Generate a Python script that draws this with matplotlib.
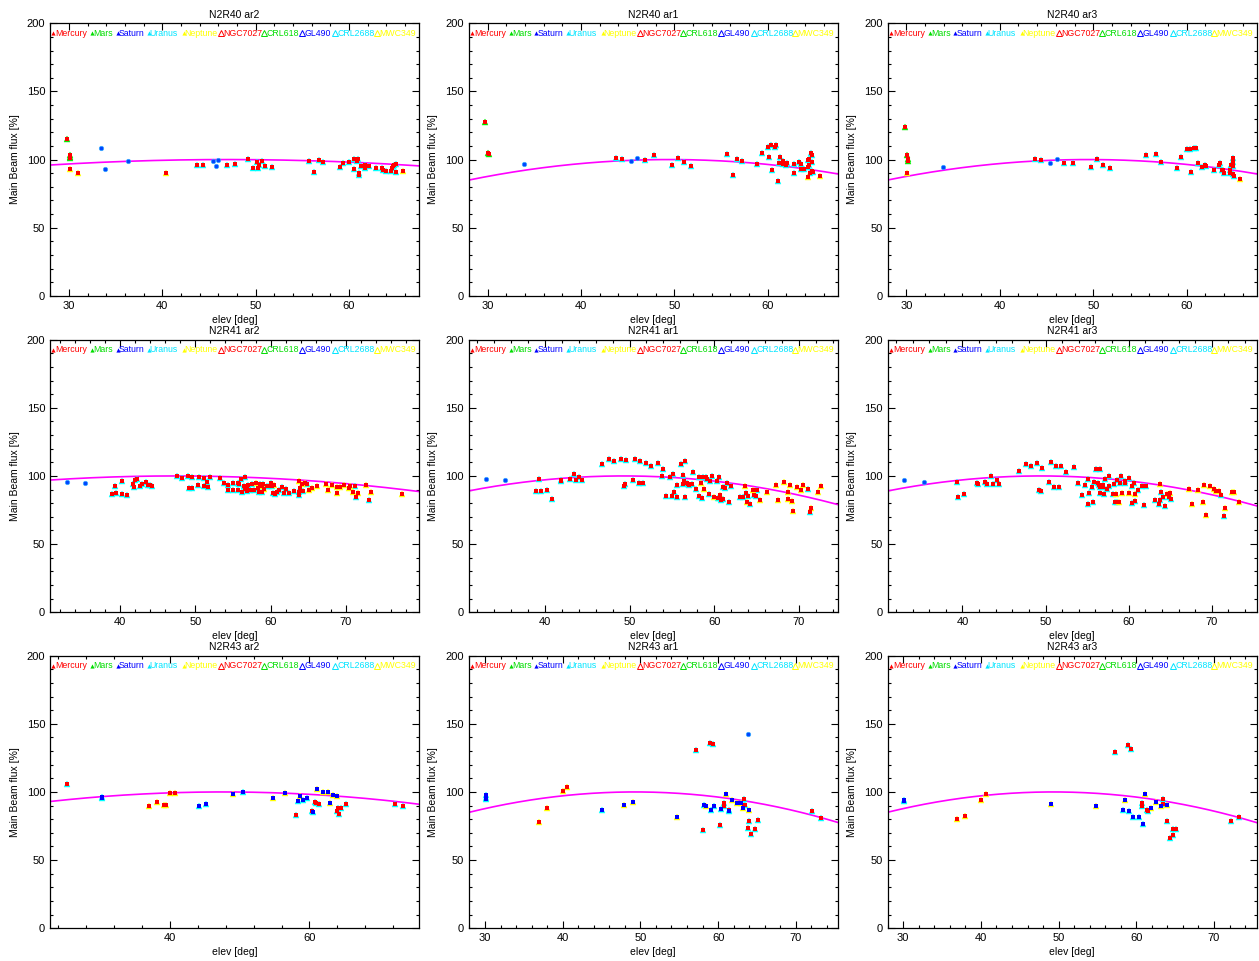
import matplotlib
matplotlib.use("Agg")
import matplotlib.pyplot as plt
import numpy as np
from matplotlib.ticker import MultipleLocator

# ---------------- data ----------------
# marker classes: (outer triangle colour, inner dot colour)
# A: NGC7027-like (cyan/red), B: yellow/red, C: cyan/blue, D: yellow/blue,
# E: green/red (Mars), F: Saturn (blue dot)

pts_N2R40_ar2 = [(29.75,115.3,'E'),(30.05,103,'E'),(30.1,102,'E'),(30.1,101,'E'),(30.1,92.8,'B'),(31.0,90.0,'B'),
    (33.4,108.4,'F'),(33.9,92.8,'F'),(36.3,98.7,'F'),(40.4,89.8,'B'),(43.75,96.2,'A'),(44.4,95.7,'A'),(45.4,98.7,'F'),
    (46.0,99.4,'F'),(45.8,95.2,'F'),(46.9,95.7,'A'),(47.8,96.7,'A'),(49.2,100.1,'A'),(49.75,93.8,'A'),(50.1,98.2,'A'),
    (50.4,96.2,'A'),(50.25,93.5,'A'),(50.7,98.9,'A'),(51.0,95.2,'A'),(51.75,94.5,'A'),(55.7,98.9,'A'),(56.3,90.6,'A'),
    (56.75,99.4,'A'),(57.25,98.2,'A'),(59.0,94.7,'A'),(59.4,97.2,'A'),(60.0,98.2,'A'),(60.5,100.6,'A'),(60.55,92.8,'A'),
    (60.85,98.9,'A'),(61.0,100.4,'A'),(61.1,89.8,'A'),(61.1,88.4,'A'),(61.25,95.5,'A'),(61.7,96.2,'A'),(61.7,94.0,'A'),
    (62.1,95.0,'A'),(62.9,93.5,'A'),(63.55,93.5,'A'),(63.6,92.0,'A'),(64.0,91.3,'A'),(64.6,93.5,'A'),(64.7,95.0,'A'),
    (64.8,96.2,'A'),(65.0,96.7,'A'),(64.55,91.8,'A'),(65.0,90.8,'A'),(65.75,91.5,'B')]

pts_N2R40_ar1 = [(29.75,127.3,'E'),(30.05,104.8,'E'),(30.1,103.8,'E'),(33.9,96.5,'F'),(43.75,101.3,'A'),(44.4,100.4,'A'),
    (45.3,98.9,'F'),(46.0,101.1,'F'),(46.85,99.4,'A'),(47.8,103.1,'A'),(49.75,95.7,'A'),(50.4,101.1,'A'),(51.0,97.9,'A'),
    (51.75,95.0,'A'),(55.6,104.3,'A'),(56.3,88.9,'A'),(56.7,100.1,'A'),(57.2,99.1,'A'),(58.8,96.7,'A'),(59.4,104.8,'A'),
    (60.0,108.9,'A'),(60.15,101.6,'A'),(60.4,110.4,'A'),(60.5,92.0,'A'),(60.75,108.9,'A'),(60.9,110.6,'A'),(61.1,84.0,'A'),
    (61.2,97.7,'A'),(61.35,102.1,'A'),(61.6,98.7,'A'),(61.6,96.7,'A'),(62.0,96.2,'A'),(62.1,97.4,'A'),(62.8,96.7,'A'),
    (62.8,89.8,'A'),(63.3,98.4,'A'),(63.6,96.9,'A'),(63.6,93.0,'A'),(63.9,93.0,'A'),(64.3,99.6,'A'),(64.45,100.6,'A'),
    (64.6,104.5,'A'),(64.75,103.5,'A'),(64.75,98.4,'A'),(64.45,96.0,'A'),(64.3,94.2,'A'),(64.55,90.3,'A'),(64.75,91.8,'A'),
    (64.9,90.6,'A'),(64.3,87.4,'B'),(65.6,87.6,'B')]

pts_N2R40_ar3 = [(29.8,124.1,'E'),(30.05,103.1,'E'),(30.15,100.1,'E'),(30.15,99.1,'E'),(30.05,90.3,'B'),(33.9,94.2,'F'),
    (43.75,100.1,'A'),(44.45,99.4,'A'),(45.35,97.7,'F'),(46.1,100.4,'F'),(46.85,97.7,'A'),(47.8,97.2,'A'),(49.75,94.7,'A'),
    (50.4,100.1,'A'),(51.05,95.7,'A'),(51.8,93.5,'A'),(55.7,103.3,'A'),(56.7,103.8,'A'),(57.25,98.2,'A'),(58.95,94.0,'A'),
    (59.35,101.8,'A'),(60.0,107.5,'A'),(60.4,107.5,'A'),(60.5,90.8,'A'),(60.8,108.2,'A'),(60.95,108.7,'A'),(61.2,97.7,'A'),
    (61.6,94.2,'A'),(62.0,96.2,'A'),(62.1,95.5,'A'),(62.95,92.3,'A'),(63.5,95.7,'A'),(63.6,97.4,'A'),(63.75,92.5,'A'),
    (63.85,92.0,'A'),(64.05,90.1,'A'),(64.6,92.0,'A'),(64.6,90.3,'A'),(64.7,95.7,'A'),(64.8,96.0,'A'),(64.95,100.9,'A'),
    (65.0,97.9,'A'),(65.0,95.5,'A'),(65.0,89.4,'A'),(65.05,88.1,'A'),(65.75,85.4,'B')]

pts_N2R41_ar2 = [(32.9,95.6,'F'),(35.3,94.6,'F'),(38.9,87.0,'A'),(39.5,87.3,'A'),(39.3,92.9,'A'),(40.2,86.8,'A'),
    (40.3,96.6,'A'),(40.9,86.1,'A'),(41.7,94.4,'A'),(41.9,91.9,'A'),(42.0,97.1,'A'),(42.2,98.0,'A'),(42.65,92.9,'A'),
    (42.9,93.9,'A'),(43.4,95.4,'A'),(43.7,93.6,'A'),(44.0,93.6,'A'),(44.3,92.7,'A'),(47.6,99.8,'A'),(48.2,98.5,'A'),
    (49.0,100.0,'A'),(49.2,91.2,'A'),(49.5,91.4,'A'),(49.6,99.3,'A'),(50.4,93.6,'A'),(50.5,99.3,'A'),(51.1,92.9,'A'),
    (51.2,98.3,'A'),(51.6,95.6,'A'),(51.7,92.2,'A'),(51.9,99.3,'A'),(53.3,98.5,'A'),(53.85,94.6,'A'),(54.4,93.2,'A'),
    (54.4,90.0,'A'),(55.0,95.1,'A'),(55.0,89.5,'A'),(55.6,94.6,'A'),(55.7,89.5,'A'),(55.8,94.1,'A'),(56.0,98.0,'A'),
    (56.2,88.3,'A'),(56.4,92.9,'A'),(56.6,99.0,'A'),(56.8,91.7,'A'),(56.6,90.2,'A'),(56.9,89.0,'A'),(57.0,93.4,'A'),
    (57.2,89.7,'A'),(57.5,94.4,'A'),(57.8,89.5,'A'),(58.1,94.6,'B'),(58.3,91.0,'A'),(58.6,94.4,'A'),(58.5,88.3,'A'),
    (58.85,88.3,'A'),(58.85,92.7,'B'),(59.0,94.4,'A'),(59.1,90.2,'B'),(59.5,92.9,'A'),(59.8,92.9,'A'),(60.0,95.1,'A'),
    (60.2,92.7,'A'),(60.35,87.3,'A'),(60.5,93.2,'B'),(60.6,86.8,'A'),(60.8,88.0,'A'),(61.1,90.0,'A'),(61.5,92.2,'A'),
    (61.8,87.3,'A'),(62.0,90.2,'A'),(62.4,87.8,'A'),(63.1,89.2,'A'),(63.7,96.6,'B'),(63.8,85.8,'A'),(63.8,88.5,'A'),
    (63.9,91.0,'A'),(64.1,93.9,'B'),(64.25,89.0,'A'),(64.6,94.6,'B'),(64.8,93.9,'A'),(65.1,89.5,'B'),(65.5,91.0,'B'),
    (66.2,92.4,'B'),(67.3,94.1,'B'),(67.6,89.5,'B'),(68.2,93.2,'B'),(68.8,87.8,'B'),(68.85,92.2,'B'),(69.2,92.2,'B'),
    (69.8,93.6,'B'),(70.35,91.4,'B'),(70.5,92.9,'B'),(70.9,88.3,'B'),(71.15,92.4,'A'),(71.4,84.4,'A'),(71.6,87.8,'B'),
    (72.6,93.6,'B'),(73.1,82.2,'A'),(73.3,88.3,'B'),(77.4,87.0,'B')]

pts_N2R41_ar1 = [(33.04,97.6,'F'),(35.3,97.3,'F'),(39.0,89.2,'A'),(39.3,97.6,'A'),(39.6,88.8,'A'),(40.2,89.5,'A'),
    (40.9,83.4,'A'),(41.85,97.1,'A'),(41.95,96.6,'A'),(42.95,97.6,'A'),(43.4,101.5,'A'),(43.65,97.3,'A'),(44.05,99.3,'A'),
    (44.4,97.1,'A'),(46.8,108.8,'A'),(47.6,112.5,'A'),(48.2,111.0,'A'),(49.0,112.2,'A'),(49.6,111.5,'A'),(49.3,92.7,'A'),
    (49.5,94.1,'A'),(50.45,97.1,'A'),(50.6,112.5,'A'),(51.2,111.2,'A'),(51.1,94.6,'A'),(51.6,94.6,'A'),(51.9,109.3,'A'),
    (52.5,107.3,'A'),(53.4,109.3,'A'),(53.9,105.1,'A'),(53.85,100.2,'A'),(54.35,85.3,'A'),(54.75,99.0,'A'),(55.1,101.2,'A'),
    (55.0,85.6,'A'),(55.2,88.5,'A'),(55.6,93.2,'A'),(55.65,84.6,'A'),(56.1,109.0,'A'),(56.3,101.0,'A'),(56.35,94.1,'A'),
    (56.45,96.6,'A'),(56.6,110.8,'A'),(56.55,84.8,'A'),(56.75,95.1,'A'),(56.9,94.1,'A'),(57.05,93.4,'A'),(57.4,94.4,'A'),
    (57.5,103.2,'A'),(57.9,90.5,'A'),(58.25,99.0,'A'),(58.25,85.3,'A'),(58.4,95.1,'B'),(58.55,84.1,'A'),(58.7,99.5,'A'),
    (58.85,90.5,'B'),(59.0,99.5,'A'),(59.1,98.0,'A'),(59.35,87.0,'A'),(59.5,96.6,'A'),(59.7,100.2,'A'),(60.0,84.4,'B'),
    (60.4,83.6,'A'),(60.3,96.1,'A'),(60.55,99.5,'A'),(60.6,84.1,'A'),(60.7,85.8,'B'),(60.85,82.4,'A'),(61.0,82.9,'A'),
    (61.1,92.2,'A'),(61.3,91.4,'A'),(61.5,94.6,'A'),(61.75,80.9,'A'),(62.0,92.9,'A'),(63.1,84.4,'A'),(63.4,84.4,'A'),
    (63.7,92.4,'B'),(63.75,87.8,'A'),(63.9,80.9,'B'),(64.05,85.3,'A'),(64.2,79.2,'A'),(64.55,89.7,'B'),(64.7,86.1,'A'),
    (65.0,85.6,'A'),(65.1,89.7,'A'),(65.4,82.2,'B'),(66.2,88.3,'B'),(67.3,93.6,'B'),(67.6,82.6,'B'),(68.2,95.4,'B'),
    (68.7,88.3,'B'),(68.7,82.9,'B'),(69.0,93.6,'B'),(69.2,81.7,'B'),(69.3,74.3,'B'),(69.8,91.9,'B'),(70.3,89.5,'B'),
    (70.5,93.6,'B'),(71.05,90.2,'A'),(71.3,73.6,'A'),(71.5,76.3,'B'),(72.3,88.5,'B'),(72.6,92.7,'B')]

pts_N2R41_ar3 = [(33.0,96.8,'F'),(35.35,95.6,'F'),(39.3,95.6,'A'),(39.5,84.4,'A'),(40.2,86.8,'A'),(41.8,95.1,'A'),
    (41.9,93.9,'A'),(42.7,95.8,'A'),(43.0,94.1,'A'),(43.45,99.8,'A'),(43.7,94.4,'A'),(44.1,97.3,'A'),(44.4,94.4,'A'),
    (46.85,103.9,'A'),(47.6,109.0,'A'),(48.25,107.6,'A'),(48.95,109.5,'A'),(49.25,89.7,'A'),(49.5,89.0,'A'),(49.6,105.6,'A'),
    (50.45,95.6,'A'),(50.6,110.5,'A'),(51.2,107.6,'A'),(51.05,91.7,'A'),(51.6,91.7,'A'),(51.9,107.1,'A'),(52.5,102.7,'A'),
    (53.4,106.6,'A'),(53.9,95.1,'A'),(54.35,86.1,'A'),(54.75,93.6,'A'),(55.15,97.6,'A'),(55.05,79.7,'A'),(55.2,87.3,'A'),
    (55.6,92.2,'A'),(55.7,80.9,'A'),(55.8,95.4,'A'),(56.1,105.1,'A'),(56.3,95.1,'A'),(56.4,93.6,'A'),(56.5,92.2,'A'),
    (56.6,105.4,'A'),(56.6,87.3,'A'),(56.85,93.2,'A'),(56.95,91.7,'A'),(57.05,86.8,'A'),(57.2,97.8,'A'),(57.35,90.2,'A'),
    (57.6,92.7,'A'),(57.6,100.2,'A'),(58.05,87.0,'A'),(58.2,94.4,'A'),(58.3,81.2,'A'),(58.45,87.0,'B'),(58.6,97.1,'A'),
    (58.6,80.9,'A'),(58.85,80.9,'B'),(58.9,95.1,'A'),(59.1,99.8,'A'),(59.2,87.5,'B'),(59.5,94.6,'A'),(59.6,96.3,'A'),
    (60.0,87.3,'B'),(60.05,98.8,'A'),(60.4,92.9,'A'),(60.4,80.0,'A'),(60.6,94.9,'A'),(60.7,81.7,'A'),(60.75,87.0,'B'),
    (61.15,89.7,'A'),(61.6,92.7,'A'),(61.8,78.5,'A'),(62.1,92.7,'A'),(63.2,82.2,'A'),(63.6,79.5,'A'),(63.75,93.9,'B'),
    (63.85,88.5,'A'),(63.8,82.6,'A'),(64.1,84.4,'A'),(64.4,78.0,'A'),(64.6,86.8,'B'),(64.8,84.8,'A'),(65.0,87.3,'B'),
    (65.1,83.1,'A'),(67.3,90.2,'B'),(67.6,79.5,'B'),(68.3,89.5,'B'),(68.9,80.9,'B'),(69.1,93.6,'B'),(69.3,71.6,'B'),
    (69.8,92.9,'B'),(70.3,90.7,'B'),(70.55,89.0,'B'),(70.9,89.0,'B'),(71.15,85.8,'A'),(71.45,70.7,'A'),(71.6,76.5,'B'),
    (72.4,88.5,'B'),(72.7,88.3,'B'),(73.3,80.9,'B')]

pts_N2R43_ar2 = [(25.2,106.1,'A'),(30.2,96.6,'C'),(30.2,95.6,'C'),(37.0,90.0,'B'),(38.1,92.7,'B'),(39.2,90.5,'B'),
    (39.4,90.5,'B'),(40.05,99.5,'B'),(40.7,99.5,'B'),(44.2,90.0,'C'),(45.1,91.4,'C'),(49.1,98.8,'D'),(50.5,99.8,'C'),
    (54.8,95.8,'D'),(56.5,99.3,'D'),(58.1,82.9,'A'),(58.4,93.2,'C'),(58.6,97.1,'D'),(59.1,94.4,'C'),(59.6,95.6,'C'),
    (60.3,86.1,'A'),(60.5,85.3,'C'),(60.8,92.7,'A'),(60.9,91.9,'A'),(61.1,102.2,'D'),(61.4,91.0,'A'),(61.9,100.2,'D'),
    (62.6,100.0,'D'),(62.9,91.9,'D'),(63.35,98.0,'D'),(63.9,85.8,'A'),(64.0,97.3,'D'),(64.1,88.0,'A'),(64.2,83.9,'A'),
    (64.5,88.0,'A'),(65.2,91.2,'A'),(72.25,91.2,'A'),(73.4,89.7,'A')]

pts_N2R43_ar1 = [(30.1,97.6,'C'),(30.1,95.6,'C'),(30.1,94.6,'C'),(37.0,77.7,'B'),(38.0,88.0,'B'),(40.0,100.7,'B'),
    (40.6,103.4,'B'),(45.0,86.6,'C'),(47.9,90.7,'D'),(49.1,92.9,'D'),(54.7,81.7,'D'),(57.2,131.0,'A'),(59.0,135.9,'A'),
    (59.3,135.5,'A'),(58.0,72.4,'A'),(58.25,90.2,'C'),(58.4,90.0,'D'),(59.05,87.0,'C'),(59.5,89.7,'C'),(60.2,75.5,'A'),
    (60.35,87.3,'C'),(60.7,92.2,'A'),(60.75,89.7,'A'),(61.0,98.5,'D'),(61.4,87.0,'A'),(61.4,85.8,'C'),(61.85,94.1,'D'),
    (62.5,91.7,'D'),(62.9,91.7,'D'),(63.2,88.0,'D'),(63.3,90.7,'A'),(63.4,95.1,'A'),(63.5,90.5,'A'),(63.8,142.3,'F'),
    (64.0,79.0,'A'),(63.9,73.3,'A'),(64.0,86.6,'D'),(64.3,68.9,'A'),(64.7,73.1,'A'),(65.1,79.7,'A'),(72.1,85.8,'A'),
    (73.2,81.2,'A')]

pts_N2R43_ar3 = [(30.1,94.4,'C'),(30.1,93.0,'C'),(36.9,80.4,'B'),(38.0,82.4,'B'),(40.0,93.9,'B'),(40.6,98.5,'B'),
    (49.0,90.9,'D'),(54.8,89.7,'D'),(57.3,129.6,'A'),(58.9,134.2,'A'),(59.3,131.8,'A'),(58.3,86.8,'C'),(58.5,93.9,'D'),
    (59.1,86.1,'C'),(59.6,81.7,'C'),(60.4,81.7,'C'),(60.7,91.9,'A'),(60.7,90.0,'A'),(60.9,76.8,'C'),(61.1,98.8,'D'),
    (61.4,86.8,'A'),(61.5,86.1,'A'),(61.9,88.5,'D'),(62.6,92.7,'D'),(63.2,90.0,'D'),(63.4,95.1,'A'),(63.4,91.2,'A'),
    (64.0,90.2,'D'),(63.9,78.7,'A'),(64.3,66.5,'A'),(64.7,72.9,'A'),(64.75,68.5,'A'),(65.1,73.1,'A'),(72.2,78.7,'A'),
    (73.2,81.4,'A')]

# gain-curve fit per panel: (peak elevation, curvature) -> 100 - c*(el-peak)^2
fit_params = {
    'N2R40 ar2': (47.0, 0.0111), 'N2R40 ar1': (49.5, 0.0325), 'N2R40 ar3': (49.5, 0.0325),
    'N2R41 ar2': (47.3, 0.0109), 'N2R41 ar1': (49.3, 0.0328), 'N2R41 ar3': (49.4, 0.0325),
    'N2R43 ar2': (47.6, 0.0114), 'N2R43 ar1': (49.3, 0.0328), 'N2R43 ar3': (49.3, 0.0328),
}

xlims = {
    'N2R40 ar2': (27.96, 67.5), 'N2R40 ar1': (27.96, 67.5), 'N2R40 ar3': (28.0, 67.5),
    'N2R41 ar2': (30.7, 79.7), 'N2R41 ar1': (31.0, 74.6), 'N2R41 ar3': (31.0, 75.4),
    'N2R43 ar2': (22.8, 75.7), 'N2R43 ar1': (27.9, 75.4), 'N2R43 ar3': (28.0, 75.5),
}

legend_names = ['Mercury', 'Mars', 'Saturn', 'Uranus', 'Neptune', 'NGC7027', 'CRL618', 'GL490', 'CRL2688', 'MWC349']
legend_colors = ['#ff0000', '#00dd00', '#0000ff', '#00e5ff', '#ffff00', '#ff0000', '#00dd00', '#0000ff', '#00e5ff', '#ffff00']
legend_filled = [True, True, True, True, True, False, False, False, False, False]

panels = [
    ['N2R40 ar2', 'N2R40 ar1', 'N2R40 ar3'],
    ['N2R41 ar2', 'N2R41 ar1', 'N2R41 ar3'],
    ['N2R43 ar2', 'N2R43 ar1', 'N2R43 ar3'],
]
panel_points = {
    'N2R40 ar2': pts_N2R40_ar2, 'N2R40 ar1': pts_N2R40_ar1, 'N2R40 ar3': pts_N2R40_ar3,
    'N2R41 ar2': pts_N2R41_ar2, 'N2R41 ar1': pts_N2R41_ar1, 'N2R41 ar3': pts_N2R41_ar3,
    'N2R43 ar2': pts_N2R43_ar2, 'N2R43 ar1': pts_N2R43_ar1, 'N2R43 ar3': pts_N2R43_ar3,
}

# ---------------- styles ----------------
cls_style = {
    'A': ('#00ffff', '#ff0000'),
    'B': ('#ffff00', '#ff0000'),
    'C': ('#00ffff', '#0000ff'),
    'D': ('#ffff00', '#0000ff'),
    'E': ('#00ee00', '#ff0000'),
    'F': (None, '#0044ff'),
}

W, H = 1259, 961
plt.rcParams['font.family'] = ['Liberation Sans', 'DejaVu Sans']
fig = plt.figure(figsize=(W / 100, H / 100), dpi=100)

col_left = [50, 468.7, 887.7]
row_top = [23.3, 339.7, 655.7]
ax_w, ax_h = 369, 272.5

# legend: symbol x-position and name x-position (axes fraction)
sym_pos = [0.003, 0.108, 0.177, 0.262, 0.357, 0.458, 0.575, 0.678, 0.767, 0.879]
name_pos = [0.014, 0.118, 0.187, 0.270, 0.365, 0.470, 0.587, 0.690, 0.779, 0.891]

for r in range(3):
    for c in range(3):
        name = panels[r][c]
        left = col_left[c] / W
        bottom = 1 - (row_top[r] + ax_h) / H
        ax = fig.add_axes([left, bottom, ax_w / W, ax_h / H])
        x0, x1 = xlims[name]
        ax.set_xlim(x0, x1)
        ax.set_ylim(0, 200)

        pts = panel_points[name]
        xs = np.array([p[0] for p in pts])
        ys = np.array([p[1] for p in pts])
        cl = [p[2] for p in pts]

        # fitted curve
        pk, cv = fit_params[name]
        xx = np.linspace(x0, x1, 300)
        ax.plot(xx, 100 - cv * (xx - pk) ** 2, color='#ff00ff', lw=1.2, zorder=2)

        for k, (oc, ic) in cls_style.items():
            m = np.array([q == k for q in cl])
            if not m.any():
                continue
            if oc is not None:
                ax.plot(xs[m], ys[m], linestyle='none', marker='^', ms=5.0,
                        mfc=oc, mec=oc, mew=0.3, zorder=3)
                ax.plot(xs[m], ys[m], linestyle='none', marker='s', ms=2.6,
                        mfc=ic, mec=ic, mew=0, zorder=4)
            else:
                ax.plot(xs[m], ys[m], linestyle='none', marker='o', ms=3.2,
                        mfc=ic, mec='#33aaff', mew=0.5, zorder=4)

        # legend row
        for sp, npos, nm, col, filled in zip(sym_pos, name_pos, legend_names, legend_colors, legend_filled):
            if filled:
                ax.plot([sp + 0.006], [0.963], transform=ax.transAxes, marker='^', ms=3.0,
                        mfc=col, mec=col, mew=0, linestyle='none', clip_on=False, zorder=5)
            else:
                ax.plot([sp + 0.006], [0.963], transform=ax.transAxes, marker='^', ms=4.0,
                        mfc='none', mec=col, mew=0.7, linestyle='none', clip_on=False, zorder=5)
            ax.text(npos, 0.963, nm, transform=ax.transAxes, color=col,
                    fontsize=6.3, ha='left', va='center', zorder=5)

        ax.set_title(name, fontsize=7.5, pad=4)
        ax.set_xlabel('elev [deg]', fontsize=7.5, labelpad=3)
        ax.set_ylabel('Main Beam flux [%]', fontsize=7.5, labelpad=5)

        ax.yaxis.set_major_locator(MultipleLocator(50))
        ax.yaxis.set_minor_locator(MultipleLocator(10))
        if name == 'N2R43 ar2':
            ax.xaxis.set_major_locator(MultipleLocator(20))
            ax.xaxis.set_minor_locator(MultipleLocator(4))
        else:
            ax.xaxis.set_major_locator(MultipleLocator(10))
            ax.xaxis.set_minor_locator(MultipleLocator(2))
        ax.tick_params(which='both', direction='in', top=True, right=True, labelsize=8, width=0.8)
        ax.tick_params(which='major', length=5)
        ax.tick_params(which='minor', length=2.5)
        for s in ax.spines.values():
            s.set_linewidth(0.9)

fig.savefig('out.png', dpi=100)
